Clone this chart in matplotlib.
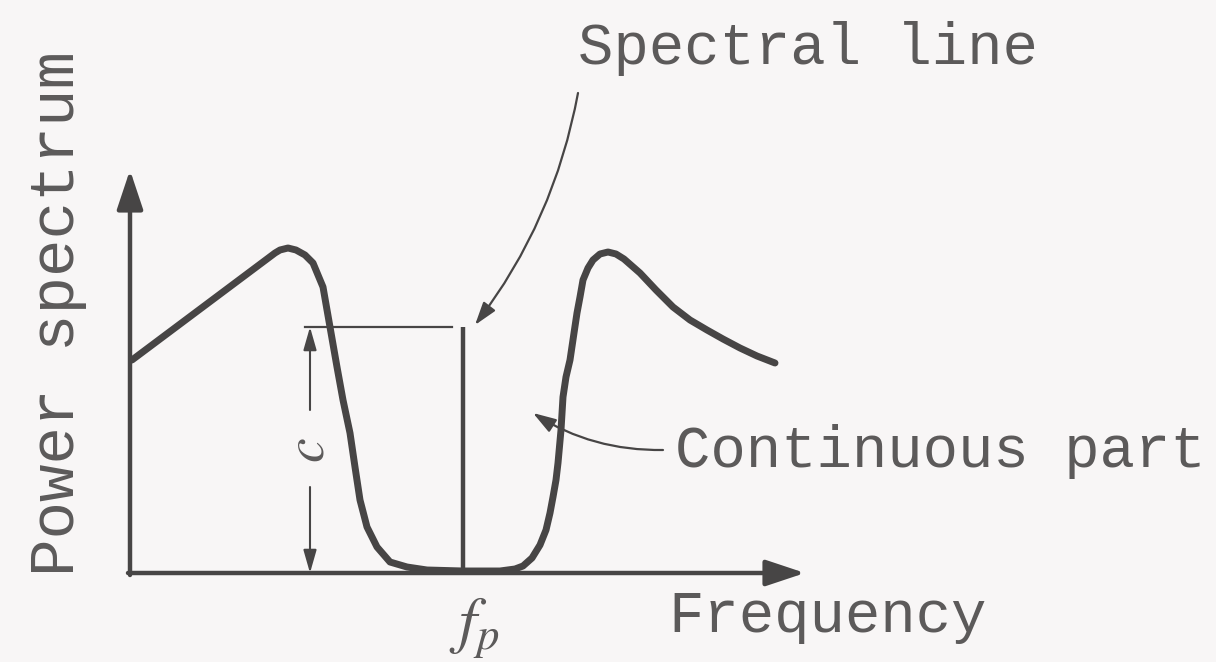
import matplotlib
matplotlib.use("Agg")
import matplotlib.pyplot as plt

# ---- data (frequency, power) read from the schematic ----
left_f = [2, 137, 145, 150, 158, 166, 175, 183, 193, 200, 207, 213, 220, 225, 230,
          237, 247, 260, 277, 297, 333]
left_p = [213, 314, 320, 323, 325, 323, 318, 310, 286, 246, 206, 173, 140, 106, 73,
          46, 26, 11, 6, 3, 2]

right_f = [333, 370, 385, 393, 402, 410, 416, 420, 423, 426, 428, 431, 433, 436, 440,
           444, 447, 450, 453, 458, 463, 470, 478, 486, 494, 502, 510, 526, 543, 560,
           577, 593, 610, 627, 645]
right_p = [2, 2, 4, 7, 15, 28, 43, 60, 76, 93, 110, 143, 176, 196, 213,
           240, 260, 276, 293, 305, 313, 319, 321, 319, 314, 307, 300, 283, 266, 253,
           243, 234, 225, 217, 210]

line_f = 333          # spectral line frequency f_p
line_p = 246          # spectral line height c
axis_f_max = 675
axis_p_max = 403

labels = {
    "ylabel": "Power spectrum",
    "xlabel": "Frequency",
    "line": "Spectral line",
    "cont": "Continuous part",
    "fp": r"$f_p$",
    "c": r"$c$",
}

ink = "#474545"
txt = "#5c5a5a"
bg = "#f8f6f6"

plt.rcParams["mathtext.fontset"] = "stix"

fig = plt.figure(figsize=(12.16, 6.62), dpi=100, facecolor=bg)
ax = fig.add_axes([0, 0, 1, 1])
ax.set_facecolor(bg)
ax.set_xlim(-130, 1086)
ax.set_ylim(-89, 573)
ax.axis("off")

# axes with arrows
ax.annotate("", xy=(0, axis_p_max), xytext=(0, -2),
            arrowprops=dict(arrowstyle="-|>,head_length=2.4,head_width=0.8",
                            mutation_scale=10, lw=3.2, color=ink, shrinkA=0, shrinkB=0))
ax.annotate("", xy=(axis_f_max, 0), xytext=(-2, 0),
            arrowprops=dict(arrowstyle="-|>,head_length=2.4,head_width=0.8",
                            mutation_scale=10, lw=3.2, color=ink, shrinkA=0, shrinkB=0))

# continuous spectrum
ax.plot(left_f, left_p, color=ink, lw=5, solid_capstyle="round", solid_joinstyle="round")
ax.plot(right_f, right_p, color=ink, lw=5, solid_capstyle="round", solid_joinstyle="round")

# spectral line
ax.plot([line_f, line_f], [0, line_p], color=ink, lw=3.2, solid_capstyle="butt")

# reference line for c
ax.plot([175, line_f - 11], [line_p, line_p], color=ink, lw=1.6)

# double arrow c
c_x = 180
ax.annotate("", xy=(c_x, line_p), xytext=(c_x, 163),
            arrowprops=dict(arrowstyle="-|>,head_length=1.4,head_width=0.4",
                            mutation_scale=10, lw=1.5, color=ink, shrinkA=0, shrinkB=0))
ax.annotate("", xy=(c_x, 0), xytext=(c_x, 86),
            arrowprops=dict(arrowstyle="-|>,head_length=1.4,head_width=0.4",
                            mutation_scale=10, lw=1.5, color=ink, shrinkA=0, shrinkB=0))
ax.text(c_x - 2, 123, labels["c"], rotation=90, ha="center", va="center",
        fontsize=40, color=txt)

# labels
mono = "Liberation Mono"
ax.text(-72, 259, labels["ylabel"], rotation=90, ha="center", va="center",
        family=mono, fontsize=45, color=txt)
ax.text(538, -59, labels["xlabel"], ha="left", va="baseline",
        family=mono, fontsize=42.5, color=txt)
ax.text(line_f + 11, -55, labels["fp"], ha="center", va="center",
        fontsize=46, color=txt)
ax.text(448, 509, labels["line"], ha="left", va="baseline",
        family=mono, fontsize=42.5, color=txt)
ax.text(545, 106, labels["cont"], ha="left", va="baseline",
        family=mono, fontsize=42.5, color=txt)

# pointer arrows
ax.annotate("", xy=(345, 248), xytext=(448, 480),
            arrowprops=dict(arrowstyle="-|>,head_length=1.4,head_width=0.45",
                            mutation_scale=10, lw=1.6, color=ink, shrinkA=0, shrinkB=0,
                            connectionstyle="arc3,rad=-0.12"))
ax.annotate("", xy=(403, 160), xytext=(533, 123),
            arrowprops=dict(arrowstyle="-|>,head_length=1.4,head_width=0.45",
                            mutation_scale=10, lw=1.6, color=ink, shrinkA=0, shrinkB=0,
                            connectionstyle="arc3,rad=-0.15"))

fig.savefig("out.png", dpi=100, facecolor=bg)
